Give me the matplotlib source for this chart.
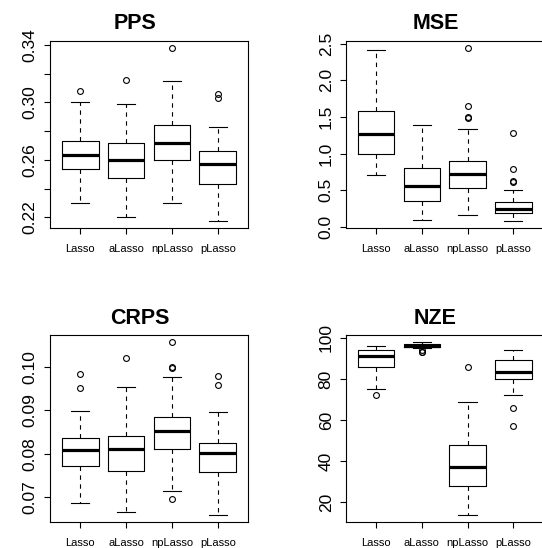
import matplotlib
matplotlib.use("Agg")
import matplotlib.pyplot as plt

plt.rcParams['font.family'] = ['Liberation Sans', 'DejaVu Sans']

methods = ["Lasso", "aLasso", "npLasso", "pLasso"]

# PPS
pps_med = [0.2634, 0.2601, 0.2718, 0.2569]
pps_q1 = [0.2534, 0.2471, 0.2599, 0.2429]
pps_q3 = [0.2734, 0.2720, 0.2845, 0.2659]
pps_lo = [0.2300, 0.2200, 0.2300, 0.2177]
pps_hi = [0.3000, 0.2991, 0.3151, 0.2826]
pps_out = [[0.3082], [0.3156], [0.3379], [0.3055, 0.3030]]
pps_ticks = [0.22, 0.24, 0.26, 0.28, 0.30, 0.32, 0.34]
pps_labels = ["0.22", "", "0.26", "", "0.30", "", "0.34"]

# MSE
mse_med = [1.263, 0.557, 0.721, 0.242]
mse_q1 = [0.999, 0.346, 0.529, 0.182]
mse_q3 = [1.583, 0.803, 0.903, 0.342]
mse_lo = [0.707, 0.096, 0.164, 0.082]
mse_hi = [2.410, 1.386, 1.336, 0.506]
mse_out = [[], [], [2.445, 1.651, 1.500, 1.480], [1.282, 0.793, 0.629, 0.606]]
mse_ticks = [0.0, 0.5, 1.0, 1.5, 2.0, 2.5]
mse_labels = ["0.0", "0.5", "1.0", "1.5", "2.0", "2.5"]

# CRPS
crps_med = [0.0808, 0.0812, 0.0852, 0.0802]
crps_q1 = [0.0772, 0.0760, 0.0812, 0.0758]
crps_q3 = [0.0837, 0.0840, 0.0884, 0.0824]
crps_lo = [0.0687, 0.0665, 0.0714, 0.0660]
crps_hi = [0.0898, 0.0953, 0.0976, 0.0896]
crps_out = [[0.0984, 0.0952], [0.1022], [0.1058, 0.1000, 0.0998, 0.0696], [0.0979, 0.0959]]
crps_ticks = [0.07, 0.08, 0.09, 0.10]
crps_labels = ["0.07", "0.08", "0.09", "0.10"]

# NZE
nze_med = [91.0, 96.0, 37.0, 83.5]
nze_q1 = [86.0, 95.5, 28.0, 80.0]
nze_q3 = [94.0, 97.0, 48.0, 89.0]
nze_lo = [75.0, 95.0, 14.0, 72.0]
nze_hi = [96.0, 98.0, 69.0, 94.0]
nze_out = [[72.0], [94.0, 93.0, 93.0], [86.0], [66.0, 57.0]]
nze_ticks = [20, 40, 60, 80, 100]
nze_labels = ["20", "40", "60", "80", "100"]

panels = [
    ("PPS", pps_med, pps_q1, pps_q3, pps_lo, pps_hi, pps_out, pps_ticks, pps_labels),
    ("MSE", mse_med, mse_q1, mse_q3, mse_lo, mse_hi, mse_out, mse_ticks, mse_labels),
    ("CRPS", crps_med, crps_q1, crps_q3, crps_lo, crps_hi, crps_out, crps_ticks, crps_labels),
    ("NZE", nze_med, nze_q1, nze_q3, nze_lo, nze_hi, nze_out, nze_ticks, nze_labels),
]

W, H = 542, 548
fig = plt.figure(figsize=(W / 100, H / 100), dpi=100)

# pixel geometry: (left, top, width, height), title center x, title baseline y
geom = [
    (50, 41, 198, 186.5, 135, 29.3),
    (346, 41, 197.5, 186.5, 436, 29.3),
    (50, 335, 198, 186.5, 140, 323.5),
    (346, 335, 197.5, 186.5, 435.5, 323.5),
]

lw = 0.8
for (title, med, q1, q3, lo, hi, out, ticks, labels), (l, t, w, h, tx, ty) in zip(panels, geom):
    ax = fig.add_axes([l / W, 1 - (t + h) / H, w / W, h / H])
    stats = []
    for i in range(len(methods)):
        stats.append(dict(med=med[i], q1=q1[i], q3=q3[i], whislo=lo[i],
                          whishi=hi[i], fliers=out[i], label=methods[i]))
    ax.bxp(stats, positions=[1, 2, 3, 4], widths=0.8, capwidths=0.4,
           boxprops=dict(color='black', lw=lw),
           whiskerprops=dict(color='black', lw=lw, linestyle=(0, (4, 4))),
           capprops=dict(color='black', lw=lw),
           medianprops=dict(color='black', lw=2.3, solid_capstyle='butt'),
           flierprops=dict(marker='o', markerfacecolor='none',
                           markeredgecolor='black', markersize=4.2,
                           markeredgewidth=0.8, linestyle='none'),
           manage_ticks=False)
    allv = lo + hi + [v for o in out for v in o]
    vmin, vmax = min(allv), max(allv)
    pad = 0.04 * (vmax - vmin)
    ax.set_ylim(vmin - pad, vmax + pad)
    ax.set_xlim(0.34, 4.66)
    ax.set_xticks([1, 2, 3, 4])
    ax.set_xticklabels(methods, fontsize=8)
    ax.set_yticks(ticks)
    ax.set_yticklabels(labels, fontsize=12.5, rotation=90, va='center')
    ax.tick_params(axis='both', direction='out', length=4.3, width=lw, color='black')
    ax.tick_params(axis='y', pad=4.6)
    ax.tick_params(axis='x', pad=7.6)
    for s in ax.spines.values():
        s.set_linewidth(lw)
        s.set_color('black')
    fig.text(tx / W, 1 - ty / H, title, fontsize=15.5, fontweight='bold',
             ha='center', va='baseline')

fig.savefig("out.png", dpi=100)
